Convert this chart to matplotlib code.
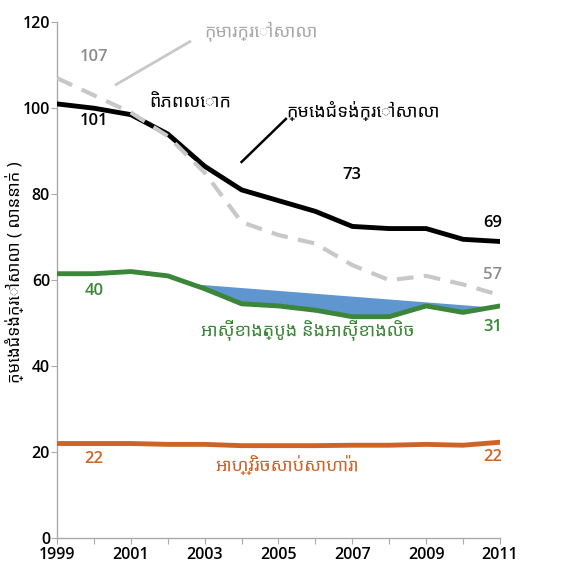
import numpy as np
import matplotlib
matplotlib.use("Agg")
import matplotlib.pyplot as plt

plt.rcParams['font.family'] = ['Noto Sans Khmer', 'DejaVu Sans']
NUM = dict(family=['Open Sans', 'DejaVu Sans'], weight='semibold')

years = np.arange(1999, 2012)
world = [101, 100, 98.5, 94, 86.5, 81, 78.5, 76, 72.5, 72, 72, 69.5, 69]
children = [107, 103, 99, 93.5, 85, 73.5, 70.5, 68.5, 63.5, 60, 61, 59, 56.5]
south_west_asia = [61.5, 61.5, 62, 61, 58, 54.5, 54, 53, 51.5, 51.5, 54, 52.5, 54]
ssa = [22, 22, 22, 21.8, 21.8, 21.5, 21.5, 21.5, 21.6, 21.6, 21.8, 21.6, 22.3]

fig = plt.figure(figsize=(5.76, 5.70), dpi=100)
ax = fig.add_axes([0.099, 0.056, 0.769, 0.905])

# blue area between straight trend and the green line
trend = np.linspace(south_west_asia[0], 53.5, len(years))
ax.fill_between(years, trend, south_west_asia, where=trend >= np.array(south_west_asia),
                interpolate=True, color='#6096d0', lw=0, zorder=1)

ax.plot(years, ssa, color='#cc6327', lw=3.5, solid_capstyle='round', zorder=3)
ax.plot(years, south_west_asia, color='#3b8638', lw=3.5, solid_capstyle='round', zorder=3)
ax.plot(years, world, color='black', lw=3.5, zorder=3)
ax.plot(years, children, color='#c8c8c8', lw=3, ls=(0, (4, 2.5)), zorder=4)

# value labels
ax.text(2000.0, 112, '107', color='#8c8c8c', fontsize=12, ha='center', va='center', **NUM)
ax.text(2000.0, 97, '101', color='black', fontsize=12, ha='center', va='center', **NUM)
ax.text(2000.0, 57.5, '40', color='#3b8638', fontsize=12, ha='center', va='center', **NUM)
ax.text(2000.0, 18.5, '22', color='#cc6327', fontsize=12, ha='center', va='center', **NUM)
ax.text(2007.0, 84.5, '73', color='black', fontsize=12, ha='center', va='center', **NUM)
ax.text(2010.8, 73.3, '69', color='black', fontsize=12, ha='center', va='center', **NUM)
ax.text(2010.8, 61.2, '57', color='#8c8c8c', fontsize=12, ha='center', va='center', **NUM)
ax.text(2010.8, 49.2, '31', color='#3b8638', fontsize=12, ha='center', va='center', **NUM)
ax.text(2010.8, 18.9, '22', color='#cc6327', fontsize=12, ha='center', va='center', **NUM)

# series names
ax.text(2003.0, 118, 'កុមារក្រៅសាលា', color='#a8a8a8', fontsize=13, ha='left', va='center')
ax.plot([2000.6, 2002.6], [105.5, 115.5], color='#c8c8c8', lw=2)
ax.text(2001.5, 101.5, 'ពិភពលោក', color='black', fontsize=13, ha='left', va='center')
ax.text(2005.2, 99.3, 'ក្មេងជំទង់ក្រៅសាលា', color='black', fontsize=13, ha='left', va='center')
ax.plot([2004.0, 2005.2], [87.5, 97.5], color='black', lw=1.8)
ax.text(2002.9, 48.4, 'អាសុីខាងត្បូង និងអាសុីខាងលិច', color='#3b8638', fontsize=13,
        ha='left', va='center')
ax.text(2003.3, 16.9, 'អាហ្វ្រិចសាប់សាហារ៉ា', color='#cc6327', fontsize=13,
        ha='left', va='center')

ax.set_xlim(1999, 2011)
ax.set_ylim(0, 120)
ax.set_xticks(years)
ax.set_xticklabels([str(y) if (y - 1999) % 2 == 0 else '' for y in years])
ax.set_yticks(range(0, 121, 20))
for s in ['top', 'right']:
    ax.spines[s].set_visible(False)
for s in ['left', 'bottom']:
    ax.spines[s].set_color('#aaaaaa')
    ax.spines[s].set_linewidth(1)
ax.tick_params(axis='both', colors='#aaaaaa', labelcolor='black', labelsize=11.5, length=4, pad=1)
ax.tick_params(axis='x', pad=2.5)
for lab in ax.get_xticklabels() + ax.get_yticklabels():
    lab.set_family(NUM['family'])
    lab.set_fontweight('semibold')
fig.text(15 / 576, 1 - 272 / 570, 'ក្មេងជំទង់ក្រៅសាលា ( លាននាក់ )', fontsize=12,
         rotation=90, ha='center', va='center')

fig.savefig('out.png')
